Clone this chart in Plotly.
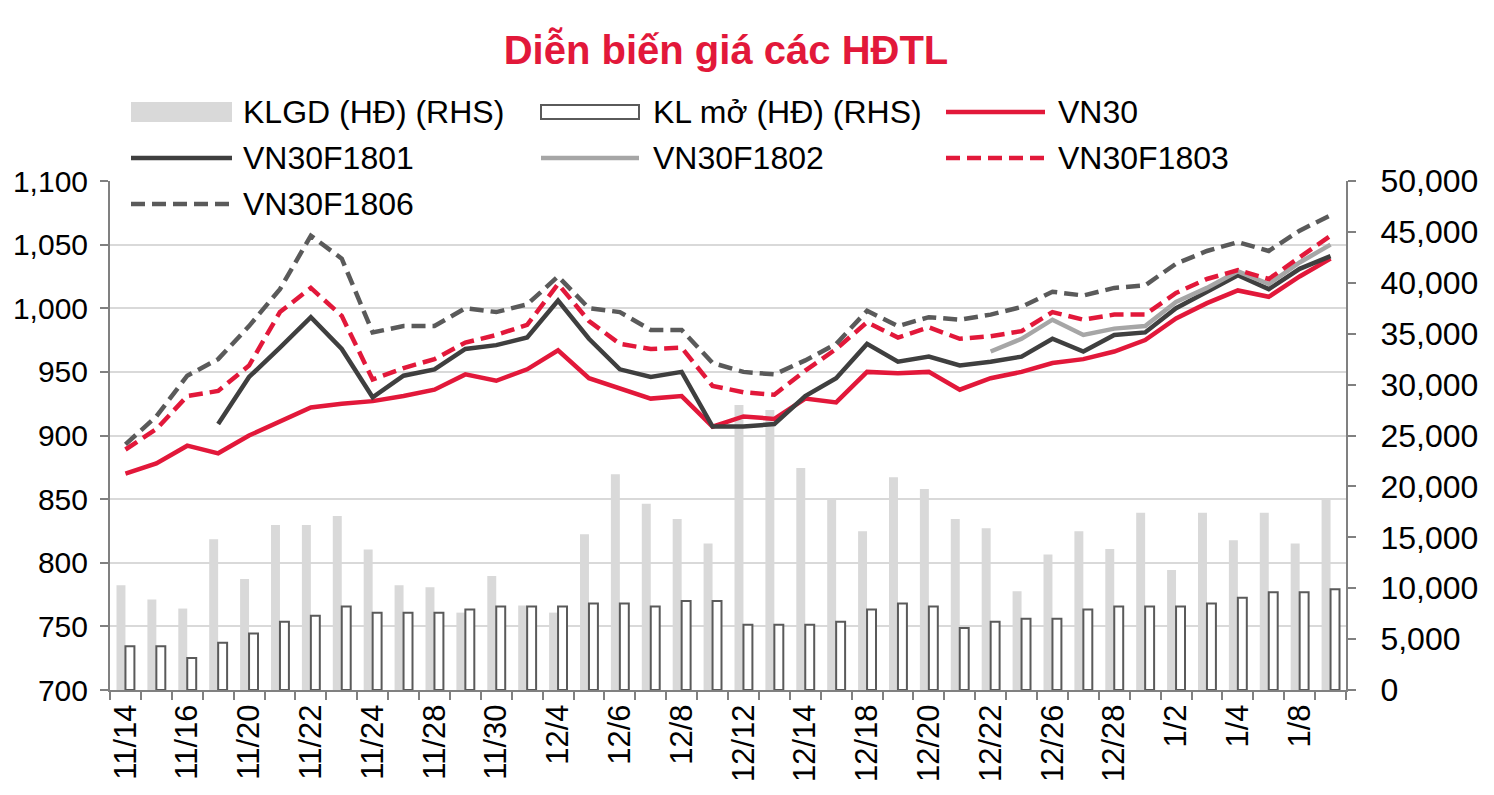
import plotly.graph_objects as go

# Trading days shown on the category axis
dates = ["11/14", "11/15", "11/16", "11/17", "11/20", "11/21", "11/22", "11/23", "11/24",
         "11/27", "11/28", "11/29", "11/30", "12/1", "12/4", "12/5", "12/6", "12/7", "12/8",
         "12/11", "12/12", "12/13", "12/14", "12/15", "12/18", "12/19", "12/20", "12/21",
         "12/22", "12/25", "12/26", "12/27", "12/28", "12/29", "1/2", "1/3", "1/4", "1/5",
         "1/8", "1/9"]

# Volume bars (right axis)
klgd = [10300, 8900, 8000, 14800, 10900, 16200, 16200, 17100, 13800, 10300, 10100, 7600,
        11200, 8300, 7600, 15300, 21200, 18300, 16800, 14400, 28000, 27500, 21800, 18800,
        15600, 20900, 19750, 16800, 15900, 9700, 13300, 15600, 13850, 17400, 11800, 17400,
        14700, 17400, 14400, 18700]
kl_mo = [4300, 4300, 3150, 4650, 5550, 6700, 7300, 8200, 7600, 7600, 7600, 7900, 8200, 8200,
         8200, 8500, 8500, 8200, 8750, 8750, 6400, 6400, 6400, 6700, 7900, 8500, 8200, 6100,
         6700, 7000, 7000, 7900, 8200, 8200, 8200, 8500, 9050, 9600, 9600, 9900]

# Prices (left axis)
vn30 = [870, 878, 892, 886, 900, 911, 922, 925, 927, 931, 936, 948, 943, 952, 967, 945, 937,
        929, 931, 907, 915, 913, 929, 926, 950, 949, 950, 936, 945, 950, 957, 960, 966, 975,
        992, 1004, 1014, 1009, 1025, 1039]
f1801 = [None, None, None, 909, 946, 969, 993, 968, 930, 947, 952, 968, 971, 977, 1006, 976,
         952, 946, 950, 907, 907, 909, 931, 945, 972, 958, 962, 955, 958, 962, 976, 966, 979,
         981, 1000, 1013, 1026, 1015, 1031, 1041]
f1802 = [None] * 28 + [966, 976, 991, 979, 984, 986, 1005, 1016, 1029, 1019, 1036, 1050]
f1803 = [889, 905, 931, 935, 955, 997, 1016, 994, 944, 953, 960, 973, 979, 987, 1019, 990,
         972, 968, 969, 939, 934, 932, 951, 968, 989, 977, 985, 976, 978, 982, 997, 991, 995,
         995, 1012, 1023, 1030, 1023, 1040, 1057]
f1806 = [893, 915, 947, 960, 986, 1015, 1057, 1039, 981, 986, 986, 1000, 997, 1003, 1025, 1000,
         997, 983, 983, 957, 950, 948, 959, 972, 998, 986, 993, 991, 995, 1001, 1013, 1010,
         1016, 1018, 1035, 1045, 1052, 1045, 1061, 1073]

RED = "#E2183A"
DARK = "#3F3F3F"
LIGHT = "#A6A6A6"
DGRAY = "#5A5A5A"
BARGRAY = "#D9D9D9"
AXIS = "#808080"
FONT = "Liberation Sans, Arial, sans-serif"
DASH = "14px,7px"

# figure sits inside the page's 8px body margin
PAGE = 8
W, H = 1478, 779
L, R, T, B = 102, 140, 173, 97

fig = go.Figure()

# bars on the base axis (right side), lines on the overlay so they sit on top
fig.add_trace(go.Bar(x=dates, y=klgd, name="KLGD (HĐ) (RHS)",
                     marker=dict(color=BARGRAY, line=dict(width=0)), yaxis="y"))
fig.add_trace(go.Bar(x=dates, y=kl_mo, name="KL mở (HĐ) (RHS)",
                     marker=dict(color="white", line=dict(color=DGRAY, width=2)), yaxis="y"))

lines = [
    ("VN30", vn30, RED, "solid"),
    ("VN30F1801", f1801, DARK, "solid"),
    ("VN30F1802", f1802, LIGHT, "solid"),
    ("VN30F1803", f1803, RED, DASH),
    ("VN30F1806", f1806, DGRAY, DASH),
]
for name, vals, color, dash in lines:
    fig.add_trace(go.Scatter(x=dates, y=vals, name=name, mode="lines", yaxis="y2",
                             line=dict(color=color, width=4.5, dash=dash)))


# manual legend (Excel-style long symbols), positions given in page pixels
def px_x(px):
    return (px - PAGE - L) / (W - L - R)


def px_y(py):
    return (H + PAGE - B - py) / (H - T - B)


shapes = []
annotations = []
legend_items = [
    # (label, kind, color, dash, col, row)
    ("KLGD (HĐ) (RHS)", "fill", BARGRAY, None, 0, 0),
    ("KL mở (HĐ) (RHS)", "box", DGRAY, None, 1, 0),
    ("VN30", "line", RED, "solid", 2, 0),
    ("VN30F1801", "line", DARK, "solid", 0, 1),
    ("VN30F1802", "line", LIGHT, "solid", 1, 1),
    ("VN30F1803", "line", RED, DASH, 2, 1),
    ("VN30F1806", "line", DGRAY, DASH, 0, 2),
]
col_sym = [(131, 232), (541, 639), (946, 1045)]
col_txt = [241, 651, 1056]
row_y = [112, 158, 204]
for label, kind, color, dash, c, r in legend_items:
    x0, x1 = col_sym[c]
    yc = row_y[r]
    if kind == "fill":
        shapes.append(dict(type="rect", xref="paper", yref="paper",
                           x0=px_x(x0), x1=px_x(x1), y0=px_y(yc - 10), y1=px_y(yc + 10),
                           fillcolor=color, line=dict(width=0)))
    elif kind == "box":
        shapes.append(dict(type="rect", xref="paper", yref="paper",
                           x0=px_x(x0), x1=px_x(x1), y0=px_y(yc - 7), y1=px_y(yc + 7),
                           fillcolor="white", line=dict(color=color, width=2)))
    else:
        shapes.append(dict(type="line", xref="paper", yref="paper",
                           x0=px_x(x0), x1=px_x(x1), y0=px_y(yc), y1=px_y(yc),
                           line=dict(color=color, width=4.5, dash=dash)))
    annotations.append(dict(text=label, xref="paper", yref="paper", x=px_x(col_txt[c]),
                            y=px_y(yc), xanchor="left", yanchor="middle", showarrow=False,
                            font=dict(family=FONT, size=32, color="black")))

fig.update_layout(
    width=W, height=H,
    margin=dict(l=L, r=R, t=T, b=B, autoexpand=False),
    paper_bgcolor="white", plot_bgcolor="white",
    font=dict(family=FONT, size=31, color="black"),
    title=dict(text="<b>Diễn biến giá các HĐTL</b>", x=(726 - PAGE) / W, xanchor="center",
               y=1 - (50 - PAGE) / H, yanchor="middle", yref="container",
               font=dict(family=FONT, size=40, color=RED)),
    showlegend=False,
    barmode="group", bargap=0.42, bargroupgap=0,
    shapes=shapes, annotations=annotations,
    xaxis=dict(type="category", tickmode="array", tickvals=dates,
               ticktext=[d if i % 2 == 0 else "" for i, d in enumerate(dates)],
               tickangle=-90, tickson="boundaries", ticks="outside", ticklen=8,
               tickwidth=2, tickcolor=AXIS, showline=True, linecolor=AXIS, linewidth=2,
               showgrid=False, tickfont=dict(size=31), automargin=False),
    yaxis=dict(side="right", range=[0, 50000], dtick=5000, tickformat=",",
               showline=True, linecolor=AXIS, linewidth=2, ticks="outside", ticklen=8,
               tickwidth=2, tickcolor=AXIS, showgrid=False, zeroline=False,
               ticklabelstandoff=18, tickfont=dict(size=32), automargin=False),
    yaxis2=dict(side="left", overlaying="y", anchor="x", range=[700, 1100], dtick=50,
                tickformat=",", showline=True, linecolor=AXIS, linewidth=2,
                ticks="outside", ticklen=8, tickwidth=2, tickcolor=AXIS,
                showgrid=True, gridcolor=BARGRAY, gridwidth=2, zeroline=False,
                ticklabelstandoff=6, tickfont=dict(size=30), automargin=False),
)

fig.write_html("out.html")
